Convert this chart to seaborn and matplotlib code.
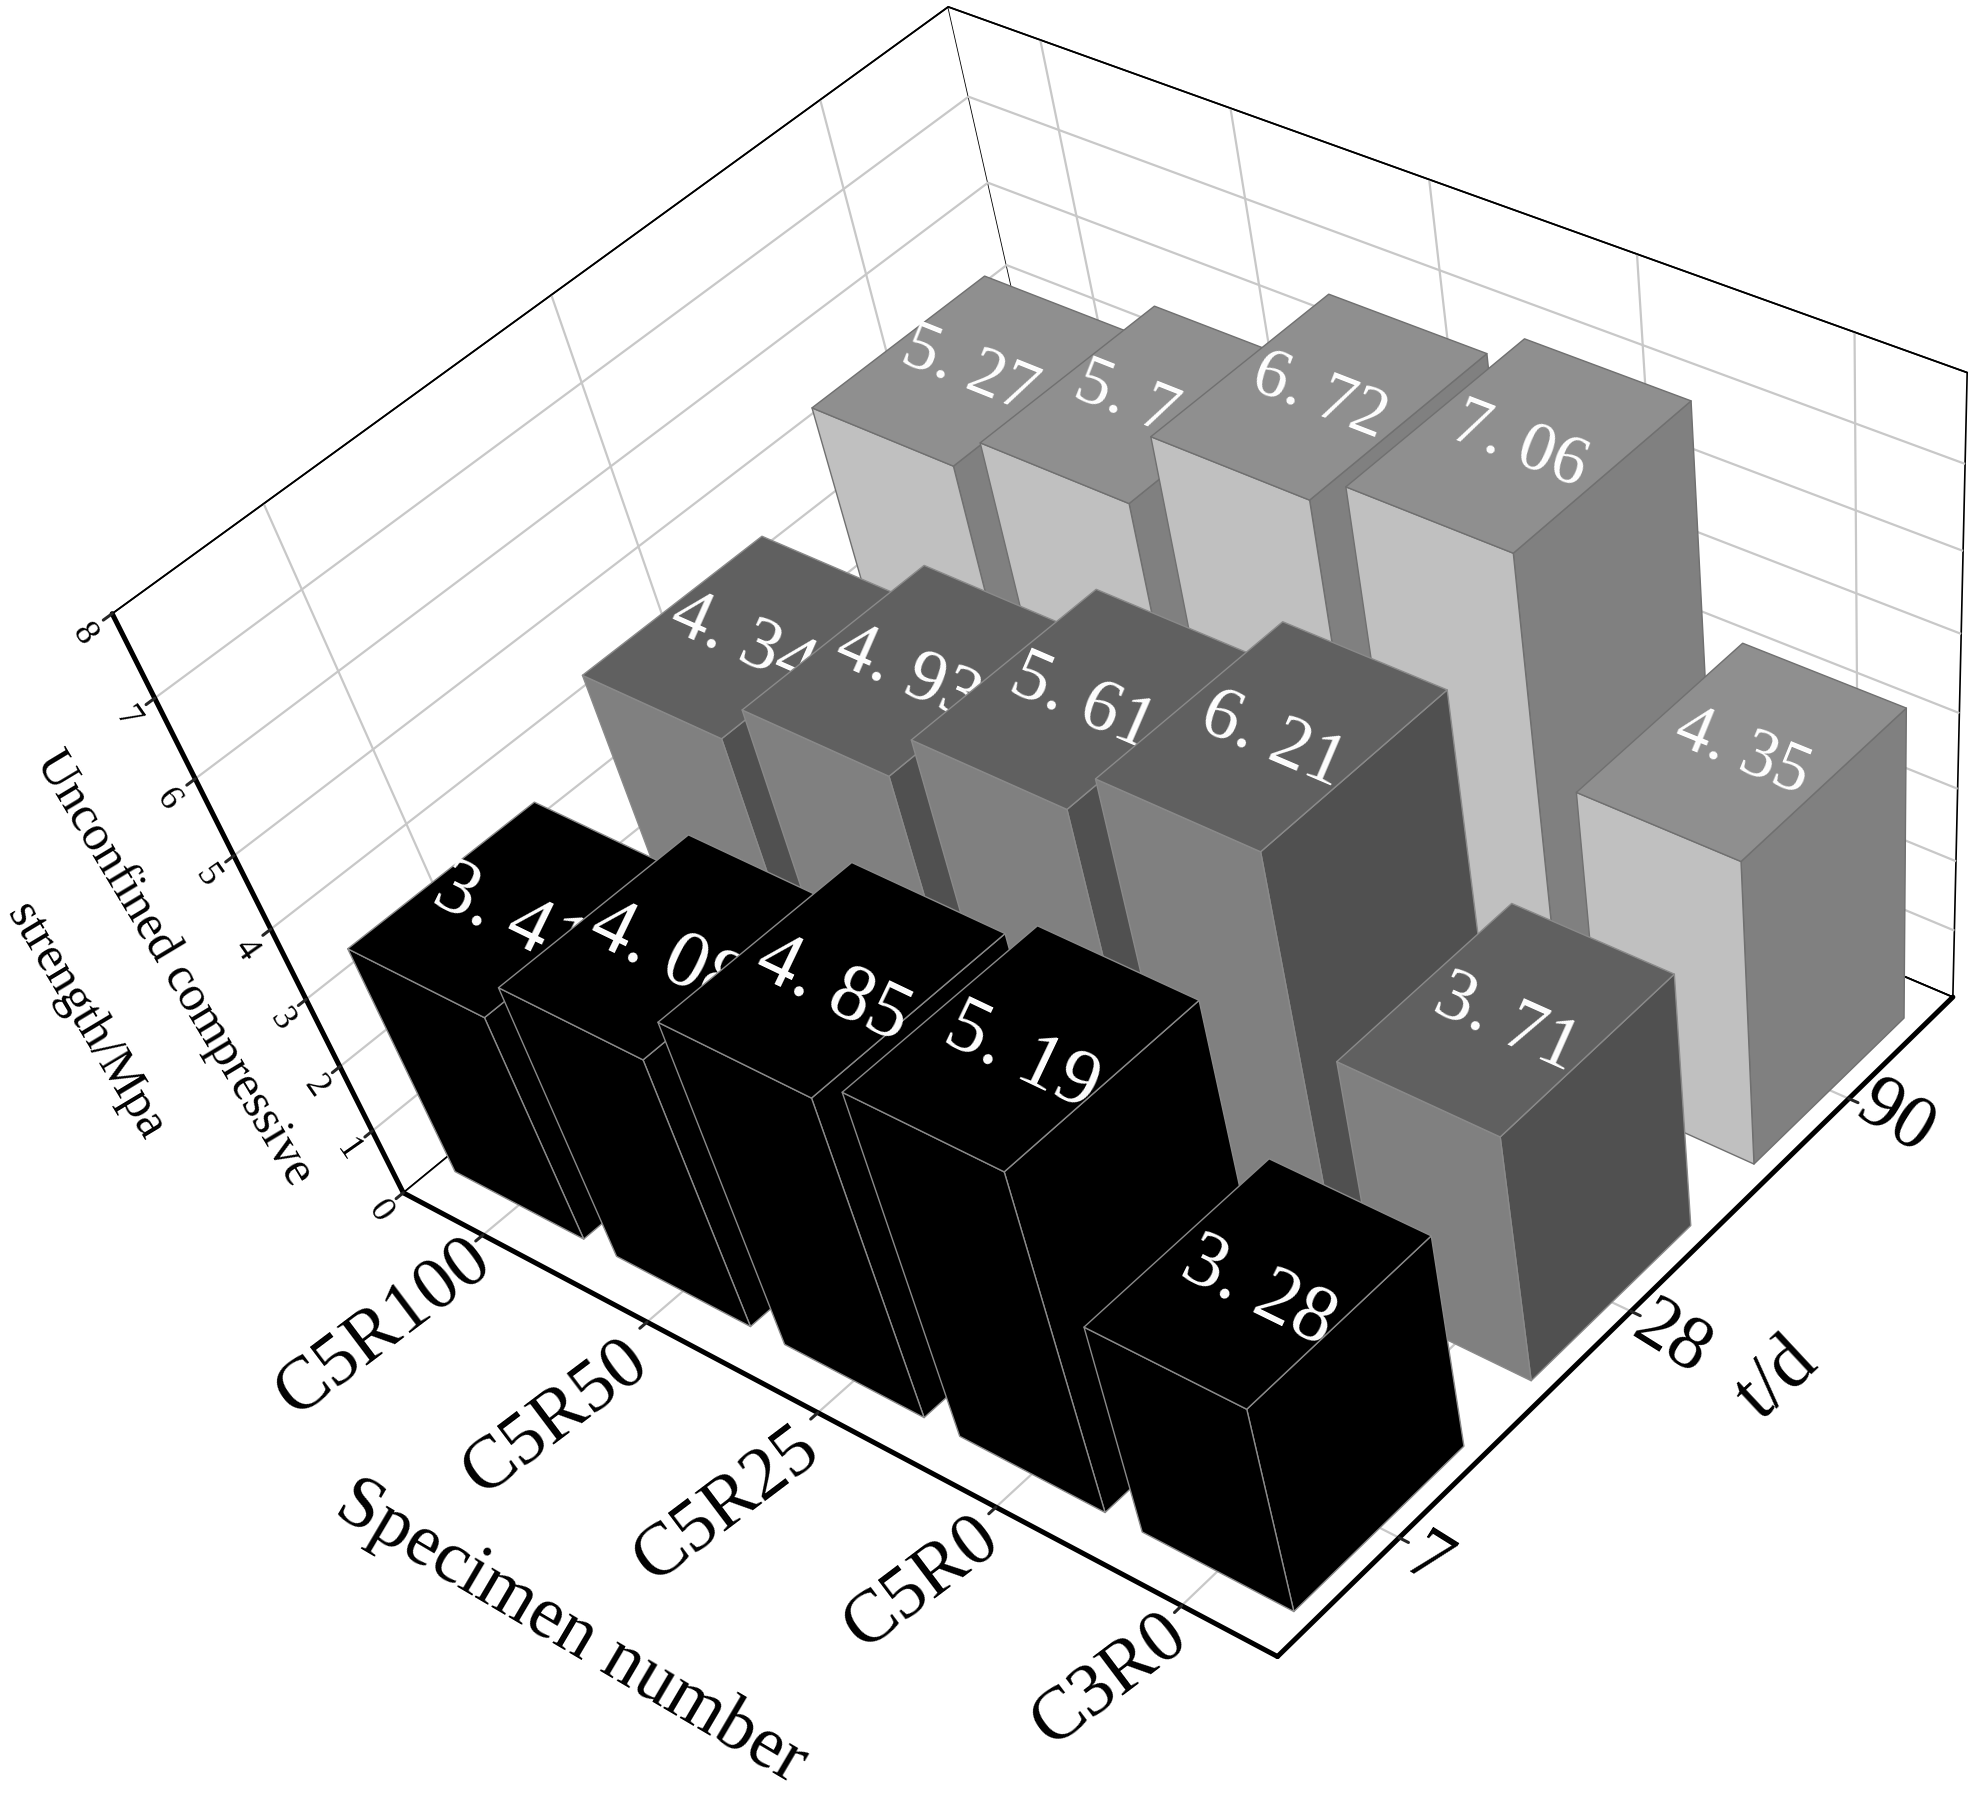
import numpy as np
import matplotlib
matplotlib.use("Agg")
import matplotlib.pyplot as plt
from matplotlib.axes import Axes
from mpl_toolkits.mplot3d import proj3d
import seaborn as sns

specimens = ["C5R100", "C5R50", "C5R25", "C5R0", "C3R0"]
ages = ["7", "28", "90"]
strength_7d = [3.41, 4.08, 4.85, 5.19, 3.28]
strength_28d = [4.34, 4.93, 5.61, 6.21, 3.71]
strength_90d = [5.27, 5.74, 6.72, 7.06, 4.35]

W, H = 1969, 1794
REF = 1969 / 1568

sns.set_theme(style="white")
plt.rcParams["font.family"] = ["Liberation Serif", "DejaVu Serif"]
plt.rcParams.update({"grid.color": "#c8c8c8", "grid.linewidth": 1.6})

fig = plt.figure(figsize=(W / 100, H / 100), dpi=100, facecolor="white")
ax = fig.add_axes([0, 0, 1, 1], projection="3d", computed_zorder=False)
ax.apply_aspect = lambda position=None: None
ax.set_position([0, 0, 1, 1])
ax.set_xlim(0, 5, view_margin=0)
ax.set_ylim(0, 3, view_margin=0)
ax.set_zlim(0, 8, view_margin=0)
ax.viewLim.intervalx = (0, W)
ax.viewLim.intervaly = (0, H)

# camera fitted to the box corners seen in the reference
corners3 = np.array([[0, 0, 0], [5, 0, 0], [5, 3, 0], [0, 3, 0],
                     [0, 0, 8], [0, 3, 8], [5, 3, 8]], float)
corners2 = np.array([[320, 948], [1018, 1320], [1555, 793], [868, 504],
                     [90, 490], [755, 4], [1566, 297]], float) * REF
u = corners2[:, 0] / W
v = 1 - corners2[:, 1] / H
rows = []
for (X, Y, Z), a, b in zip(corners3, u, v):
    rows.append([X, Y, Z, 1, 0, 0, 0, 0, -a * X, -a * Y, -a * Z, -a])
    rows.append([0, 0, 0, 0, X, Y, Z, 1, -b * X, -b * Y, -b * Z, -b])
P = np.linalg.svd(np.array(rows))[2][-1].reshape(3, 4)
if P[2] @ np.array([2.5, 1.5, 4, 1]) < 0:
    P = -P
P = P / (P[2] @ np.array([2.5, 1.5, 4, 1]))
P[0] *= W
P[1] *= H
M = np.vstack([P[0], P[1], [0, 0, 0, -1], P[2]])
ax.get_proj = lambda: M
ax.M = M

# bars
xw, yw = 0.80, 0.71
rows_data = [strength_90d, strength_28d, strength_7d]
row_y = [2.5, 1.5, 0.5]
none = (0, 0, 0, 0)
styles = [
    dict(top="#8f8f8f", front="#c0c0c0", side="#808080", edge="#707070", txt=50, drop=3),
    dict(top="#606060", front="#808080", side="#505050", edge="#8a8a8a", txt=54, drop=7),
    dict(top="#000000", front="#000000", side="#000000", edge="#8a8a8a", txt=58, drop=12),
]
z = 10
for vals, yc, st in zip(rows_data, row_y, styles):
    for i, val in enumerate(vals):
        xc = i + 0.5
        faces = [none, st["top"], st["front"], none, none, st["side"]]
        edges = [none, st["edge"], st["edge"], none, none, st["edge"]]
        col = ax.bar3d(xc - xw / 2, yc - yw / 2, 0, xw, yw, val, color=faces,
                       shade=False, edgecolors=edges, linewidths=1.0)
        col.set_zorder(z)
        x0, y0, _ = proj3d.proj_transform(xc, yc, val, M)
        x1, y1, _ = proj3d.proj_transform(xc + 1, yc, val, M)
        angle = np.degrees(np.arctan2(y1 - y0, x1 - x0))
        Axes.text(ax, x0, y0 - st["drop"], f"{val:.2f}".replace(".", ". "), color="white",
                  fontsize=st["txt"], rotation=angle, rotation_mode="anchor",
                  ha="center", va="center", zorder=z + 0.5)
        z += 1

# axes styling
for axis in (ax.xaxis, ax.yaxis, ax.zaxis):
    axis.set_pane_color((1, 1, 1, 1))
    axis.pane.set_edgecolor("black")
    axis.pane.set_linewidth(1.2)
    axis.line.set_color("black")
    axis.line.set_linewidth(3.6)
    axis._axinfo["tick"]["inward_factor"] = 0.12
    axis._axinfo["tick"]["outward_factor"] = 0.0
    axis._axinfo["tick"]["linewidth"] = {True: 2.2, False: 1.0}
    axis.set_rotate_label(False)

ax.xaxis._axmask = lambda: [False, True, False]
ax.yaxis._axmask = lambda: [True, False, False]
ax.zaxis._axmask = lambda: [False, True, False]
ax.zaxis._get_tickdir = lambda position: 1

ax.set_xticks(np.arange(5) + 0.5)
ax.set_xticklabels(specimens, fontsize=54, rotation=37, ha="center", va="center", color="black")
ax.set_yticks(np.arange(3) + 0.5)
ax.set_yticklabels(ages, fontsize=55, rotation=-32, ha="center", va="center", color="black")
ax.set_zticks(range(9))
ax.set_zticklabels([str(i) for i in range(9)], fontsize=26, rotation=-55, ha="center", va="center", color="black")
ax.zaxis.set_ticks_position("lower")
ax.zaxis.set_label_position("lower")
ax.tick_params(axis="x", pad=80)
ax.tick_params(axis="y", pad=26)
ax.tick_params(axis="z", pad=14)

# box edges at the z limits are thin and black, the other grid lines grey
ax.zaxis._axinfo["grid"]["color"] = ["black"] + ["#c8c8c8"] * 7 + ["black"]
ax.zaxis._axinfo["grid"]["linewidth"] = [1.2] + [1.6] * 7 + [1.2]


def nudge(text, dx, dy):
    """Shift a label (in pixels) each time the axis re-places it."""
    setter = text.set_position
    text.set_position = lambda xy: setter((xy[0] + dx, xy[1] + dy))


for tick, (dx, dy) in zip(ax.xaxis.get_major_ticks(),
                          [(-4, -15), (4, -15), (4, -9), (21, 10), (23, 15)]):
    nudge(tick.label1, dx, dy)
for tick, (dx, dy) in zip(ax.yaxis.get_major_ticks(), [(-19, -2), (-6, -6), (0, 0)]):
    nudge(tick.label1, dx, dy)

ax.set_xlabel("Specimen number", fontsize=53, rotation=-30.5, labelpad=212, color="black")
ax.set_ylabel("t/d", fontsize=56, rotation=43, labelpad=85, color="black")
ax.set_zlabel("Unconfined compressive\nstrength/Mpa", fontsize=36, rotation=-59, labelpad=94,
              color="black", linespacing=2.6)
nudge(ax.xaxis.label, 8, 6)
nudge(ax.zaxis.label, -4, 41)

fig.savefig("out.png", dpi=100)
